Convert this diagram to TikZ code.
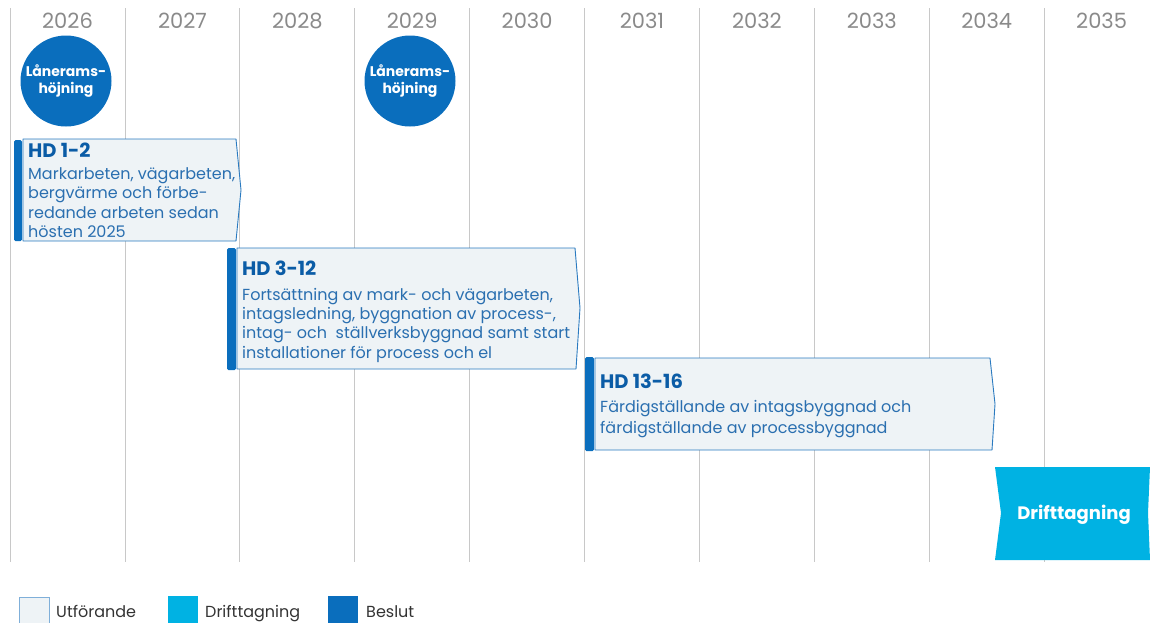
\documentclass[tikz,border=0pt]{standalone}
\usepackage{fontspec}
\setmainfont{Poppins}
\definecolor{beslut}{HTML}{0A6EBD}
\definecolor{drift}{HTML}{00B2E3}
\definecolor{utffill}{HTML}{EEF3F6}
\definecolor{utfline}{HTML}{2A7AC0}
\definecolor{bodyblue}{HTML}{2A6FB0}
\definecolor{titleblue}{HTML}{0B5CA6}
\definecolor{gridgrey}{HTML}{C8C8C8}
\definecolor{yeargrey}{HTML}{8A8A8A}
\begin{document}
\begin{tikzpicture}[x=1pt,y=-1pt,
  year/.style={font=\fontsize{21}{21}\selectfont, text=yeargrey, anchor=base},
  gridline/.style={draw=gridgrey, line width=0.8pt},
  beslutdot/.style={circle, fill=beslut, minimum size=91pt, inner sep=0pt, text=white, align=center,
    font=\bfseries\fontsize{14}{17}\selectfont},
  bar/.style={fill=beslut, rounded corners=1.5pt},
  utfbox/.style={draw=utfline, fill=utffill, line width=0.9pt, line join=round},
  hdtitle/.style={anchor=base west, inner sep=0pt, text=titleblue, font=\bfseries\fontsize{19.5}{19}\selectfont},
  hdbody/.style={anchor=base west, inner sep=0pt, text=bodyblue, align=left, font=\fontsize{16}{19.3}\selectfont},
  legendtext/.style={anchor=base west, inner sep=0pt, text=black!80, font=\fontsize{16}{16}\selectfont}]
\useasboundingbox (0,0) rectangle (1150,622);

% year columns
\foreach \yr [count=\i from 0] in {2026,...,2035} {
  \draw[gridline] ({10+114.9*\i},8) -- ({10+114.9*\i},562);
  \node[year] (y\yr) at ({67.5+114.9*\i},28) {\yr};
}

% loan frame raises
\node[beslutdot] (lan1) at (66,81) {Lånerams-\\höjning};
\node[beslutdot] (lan2) at (410,81) {Lånerams-\\höjning};

% HD 1-2 (body anchored at its last baseline)
\fill[bar] (14,140) rectangle (22,241);
\draw[utfbox] (23,139) -- (236,139) -- (241,190) -- (236,241) -- (23,241) -- cycle;
\node[hdtitle] (hd1) at (28,157) {HD 1-2};
\node[hdbody] (hd1b) at (28,237.5) {Markarbeten, vägarbeten,\\bergvärme och förbe-\\redande arbeten sedan\\hösten 2025};

% HD 3-12
\fill[bar] (227,248) rectangle (236,370);
\draw[utfbox] (237,248) -- (575,248) -- (580,308) -- (576,369) -- (237,369) -- cycle;
\node[hdtitle] (hd3) at (242,275) {HD 3-12};
\node[hdbody] (hd3b) at (242,358) {Fortsättning av mark- och vägarbeten,\\intagsledning, byggnation av process-,\\intag- och\ \ ställverksbyggnad samt start\\installationer för process och el};

% HD 13-16
\fill[bar] (585,357) rectangle (594,451);
\draw[utfbox] (595,358) -- (990,358) -- (995,404) -- (992,450) -- (595,450) -- cycle;
\node[hdtitle] (hd13) at (600,388) {HD 13-16};
\node[hdbody, font=\fontsize{16}{21}\selectfont] (hd13b) at (600,433) {Färdigställande av intagsbyggnad och\\färdigställande av processbyggnad};

% commissioning
\fill[drift] (995,467) -- (1150,467) -- (1148,513) -- (1150,560) -- (995,560) -- (1001,513) -- cycle;
\node[text=white, font=\bfseries\fontsize{18}{18}\selectfont] (drift) at (1074,515) {Drifttagning};

% legend
\draw[utfline!60, fill=utffill, line width=0.9pt] (19,597) rectangle (49,630);
\node[legendtext] (lg1) at (56,617) {Utförande};
\fill[drift] (168,596) rectangle (198,630);
\node[legendtext] (lg2) at (205,617) {Drifttagning};
\fill[beslut] (328,596) rectangle (358,630);
\node[legendtext] (lg3) at (366,617) {Beslut};
\end{tikzpicture}
\end{document}
